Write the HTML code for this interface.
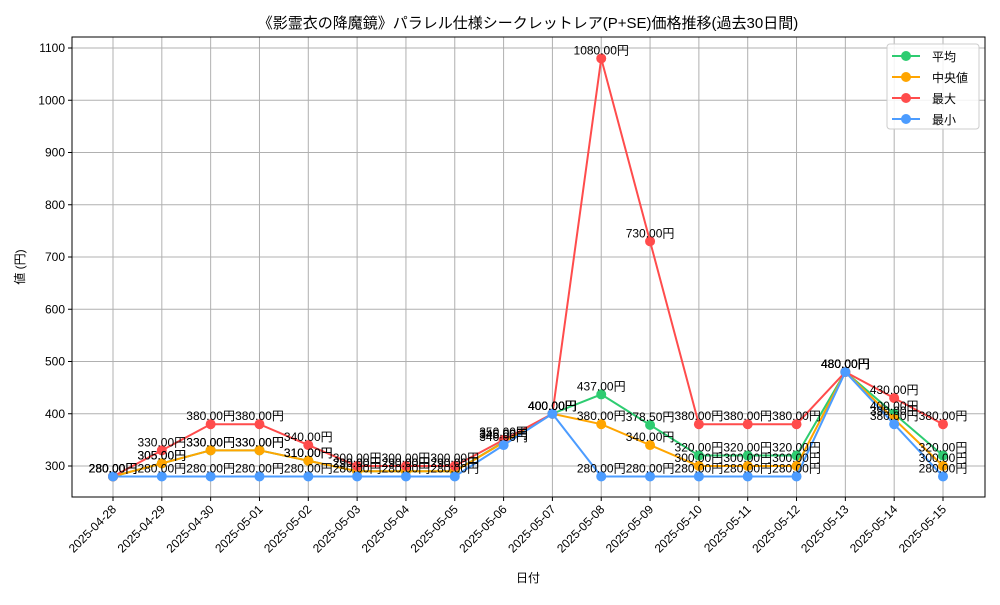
<!DOCTYPE html>
<html><head><meta charset="utf-8"><style>
body{margin:0;background:#fff;}
svg text{font-family:"Liberation Sans","Noto Sans CJK JP",sans-serif;}
</style></head><body>
<svg id="chart" width="1000" height="600" xmlns="http://www.w3.org/2000/svg">
<rect width="1000" height="600" fill="#fff"/>
<text x="528" y="28" text-anchor="middle" font-size="15">《影霊衣の降魔鏡》パラレル仕様シークレットレア(P+SE)価格推移(過去30日間)</text>
<g id="grid"></g>
<rect x="72" y="37" width="913" height="460" fill="none" stroke="#000" stroke-width="1"/>
<g id="series"></g>
<text x="528" y="582" text-anchor="middle" font-size="12">日付</text>
<text transform="translate(24,267) rotate(-90)" text-anchor="middle" font-size="12">値 (円)</text>
<g>
<rect x="887" y="44" width="92" height="85" rx="3" fill="#fff" fill-opacity="0.85" stroke="#ccc"/>
</g>
</svg>
<script>
const categories=["2025-04-28","2025-04-29","2025-04-30","2025-05-01","2025-05-02","2025-05-03","2025-05-04","2025-05-05","2025-05-06","2025-05-07","2025-05-08","2025-05-09","2025-05-10","2025-05-11","2025-05-12","2025-05-13","2025-05-14","2025-05-15"];
const meanVals=[280,305,330,330,310,290,290,290,346,400,437,378.5,320,320,320,480,400,320];
const medianVals=[280,305,330,330,310,290,290,290,345,400,380,340,300,300,300,480,390,300];
const maxVals=[280,330,380,380,340,300,300,300,350,400,1080,730,380,380,380,480,430,380];
const minVals=[280,280,280,280,280,280,280,280,340,400,280,280,280,280,280,480,380,280];
const yTicks=[300,400,500,600,700,800,900,1000,1100];
const seriesNames=["平均","中央値","最大","最小"];
const NS="http://www.w3.org/2000/svg";
const X=i=>113+i*(943-113)/(categories.length-1);
const Y=v=>466-(v-300)*0.5225;
function mk(tag,attrs,parent){const e=document.createElementNS(NS,tag);for(const k in attrs)e.setAttribute(k,attrs[k]);parent.appendChild(e);return e;}
const grid=document.getElementById('grid');
yTicks.forEach(t=>{
 const l=mk('line',{x1:72,x2:985,y1:Y(t),y2:Y(t),stroke:'#b0b0b0','stroke-width':1},grid);
 
 
 mk('line',{x1:68,x2:72,y1:Y(t),y2:Y(t),stroke:'#000'},grid);
 const tx=mk('text',{x:65,y:Y(t)+4,'text-anchor':'end','font-size':12},grid);tx.textContent=t;
 
 
});
categories.forEach((c,i)=>{
 const l=mk('line',{x1:X(i),x2:X(i),y1:37,y2:497,stroke:'#b0b0b0','stroke-width':1},grid);
 
 
 mk('line',{x1:X(i),x2:X(i),y1:497,y2:501,stroke:'#000'},grid);
 const tx=mk('text',{x:X(i)+4,y:510,'text-anchor':'end','font-size':12,transform:`rotate(-45 ${X(i)+4} 510)`},grid);tx.textContent=c;
 
 
});
const sg=document.getElementById('series');
const all=[[meanVals,'#2ecc71','mean'],[medianVals,'#ffa500','median'],[maxVals,'#ff4c4c','max'],[minVals,'#4c9cff','min']];
all.forEach(([vals,col,nm])=>{
 const p=mk('polyline',{points:vals.map((v,i)=>X(i)+','+Y(v)).join(' '),fill:'none',stroke:col,'stroke-width':2},sg);
 
 
 vals.forEach((v,i)=>{
  const c=mk('circle',{cx:X(i),cy:Y(v),r:5,fill:col},sg);
  
  
 });
});
all.forEach(([vals,col,nm])=>{
 vals.forEach((v,i)=>{
  const t=mk('text',{x:X(i),y:Y(v)-4,'text-anchor':'middle','font-size':12,fill:'#000'},sg);
  t.textContent=v.toFixed(2)+'円';
  
  
 });
});
const svg=document.getElementById('chart');
all.forEach(([v,col,nm],k)=>{
 const y=56+k*21;
 const g=mk('g',{},svg);
 
 
 mk('line',{x1:892,x2:920,y1:y,y2:y,stroke:col,'stroke-width':2},g);
 mk('circle',{cx:906,cy:y,r:5,fill:col},g);
 const t=mk('text',{x:932,y:y+5,'font-size':12},g);t.textContent=seriesNames[k];
});
</script>
</body></html>
